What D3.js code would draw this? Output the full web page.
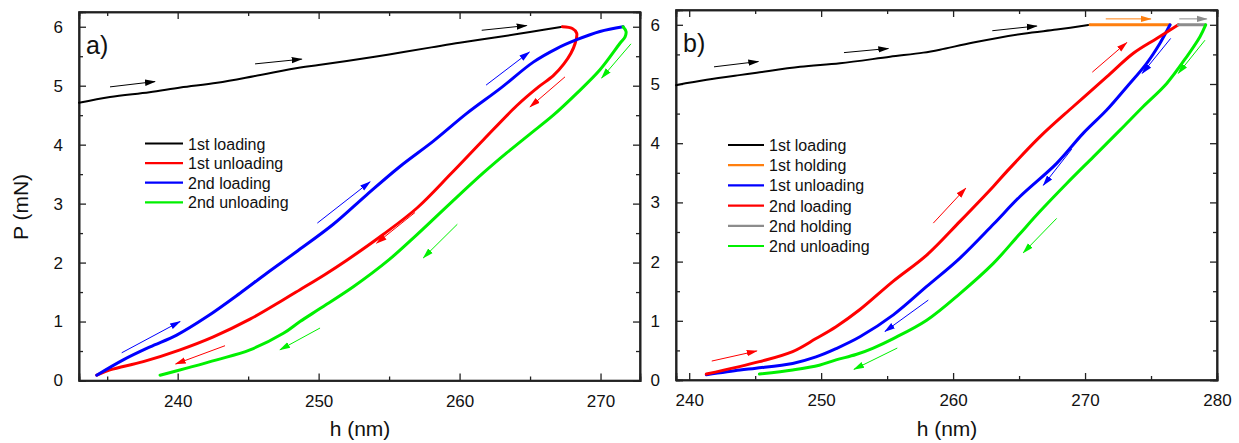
<!DOCTYPE html>
<html><head><meta charset="utf-8">
<script src="https://cdn.jsdelivr.net/npm/d3@7"></script>
<style>
html,body{margin:0;padding:0;background:#fff;}
svg{display:block;font-family:"Liberation Sans",Arial,Helvetica,sans-serif;}
</style></head>
<body><svg id="c" width="1239" height="443"></svg>
<script>
// ---------- DATA : panel a) ----------
const a_loading1 = [[233,4.71],[235.2,4.81],[238,4.89],[240.2,4.97],[242.8,5.05],[245.4,5.16],[248.7,5.31],[250,5.35],[252,5.42],[255,5.53],[258,5.65],[260,5.73],[263.1,5.84],[265,5.91],[267.3,6.0]];
const a_unloading1 = [[267.3,6.0],[268.0,5.97],[268.31,5.89],[268.2,5.72],[267.9,5.55],[267.4,5.37],[266.65,5.17],[265.6,4.98],[264.05,4.66],[261.68,4.08],[259.4,3.51],[257.0,2.93],[254.6,2.48],[252.0,2.04],[250.4,1.79],[248.68,1.54],[247.5,1.37],[245.13,1.04],[242.53,0.74],[240.17,0.52],[237.56,0.32],[235.2,0.18],[234.26,0.09]];
const a_loading2 = [[234.26,0.09],[236.14,0.35],[238.04,0.57],[239.93,0.77],[242.06,1.08],[244.42,1.48],[246.32,1.82],[248.4,2.18],[251.04,2.65],[253.41,3.15],[255.77,3.63],[258.14,4.06],[260.51,4.53],[262.87,4.95],[265.23,5.4],[266.89,5.63],[268.31,5.78],[269.96,5.92],[271.6,6.0]];
const a_unloading2 = [[271.6,6.0],[271.81,5.92],[271.74,5.83],[271.38,5.72],[269.96,5.27],[268.31,4.87],[266.65,4.5],[264.99,4.18],[263.34,3.86],[261.68,3.52],[259.32,3.0],[256.96,2.47],[255.0,2.05],[252.46,1.59],[250.1,1.22],[248.68,1.0],[247.5,0.8],[245.13,0.52],[242.77,0.35],[240.64,0.21],[238.75,0.09]];
// arrows [h1,P1,h2,P2]
const a_arrowsBlack = [[235.2,4.98,238.39,5.07],[245.49,5.37,248.8,5.45],[261.57,5.94,264.76,6.02]];
const a_arrowsBlue  = [[236.03,0.47,240.17,1.0],[249.91,2.67,253.65,3.37],[261.88,5.01,264.95,5.57]];
const a_arrowsRed   = [[243.36,0.59,239.86,0.28],[256.84,2.85,254.12,2.33],[267.48,5.15,265.0,4.64]];
const a_arrowsGreen = [[250.1,0.89,247.26,0.52],[259.84,2.65,257.43,2.08],[272.16,5.71,270.08,5.13]];
const a_legend = ["1st loading","1st unloading","2nd loading","2nd unloading"];

// ---------- DATA : panel b) ----------
const b_loading1 = [[239,4.98],[241.33,5.07],[243.8,5.15],[245.12,5.19],[248.4,5.29],[251.43,5.35],[255.22,5.46],[257.74,5.53],[259.0,5.58],[261.53,5.7],[265.32,5.85],[267.85,5.92],[270.38,6.0]];
const b_holding1 = [[270.38,6.0],[276.44,6.0]];
const b_unloading1 = [[276.44,6.0],[275.68,5.69],[274.67,5.35],[273.16,4.95],[271.64,4.56],[269.87,4.17],[267.85,3.66],[265.07,3.1],[263.05,2.63],[260.52,2.06],[258.0,1.58],[255.47,1.1],[252.94,0.73],[251.13,0.53],[249.61,0.39],[247.84,0.28],[245.06,0.2],[243.85,0.17],[241.3,0.09]];
const b_loading2 = [[241.3,0.1],[245.32,0.31],[247.84,0.48],[249.61,0.7],[251.13,0.9],[252.94,1.19],[255.47,1.67],[258.0,2.11],[260.52,2.68],[263.05,3.27],[264.06,3.52],[266.59,4.11],[269.11,4.62],[271.64,5.12],[273.66,5.52],[275.43,5.77],[277.07,6.0]];
const b_holding2 = [[277.07,6.0],[279.14,6.0]];
const b_unloading2 = [[279.14,6.0],[278.71,5.8],[277.7,5.46],[276.19,5.01],[274.41,4.62],[272.65,4.22],[270.63,3.77],[268.61,3.32],[266.59,2.85],[264.94,2.44],[263.05,1.97],[260.52,1.46],[258.0,1.01],[255.47,0.7],[253.95,0.54],[252.64,0.43],[251.13,0.34],[249.86,0.25],[247.84,0.17],[245.32,0.1]];
const b_arrowsBlack  = [[241.88,5.29,245.24,5.38],[251.73,5.53,255.09,5.6],[262.97,5.9,266.34,5.98]];
const b_arrowsOrange = [[271.57,6.1,274.98,6.1]];
const b_arrowsGray   = [[277.14,6.1,279.22,6.1]];
const b_arrowsRed    = [[241.71,0.32,245.12,0.49],[258.5,2.65,260.96,3.24],[270.55,5.2,273.16,5.7]];
const b_arrowsBlue   = [[258.12,1.35,254.84,0.82],[268.99,3.9,266.84,3.29],[276.49,5.77,274.34,5.18]];
const b_arrowsGreen  = [[255.77,0.54,252.49,0.18],[267.85,2.73,265.32,2.15],[279.09,5.74,277.07,5.18]];
const b_legend = ["1st loading","1st holding","1st unloading","2nd loading","2nd holding","2nd unloading"];

// ticks
const yTicks = [0,1,2,3,4,5,6];
const yMinor = [0.5,1.5,2.5,3.5,4.5,5.5];
const a_xTicks = [240,250,260,270];
const a_xMinor = [235,245,255,265];
const b_xTicks = [240,250,260,270,280];
const b_xMinor = [245,255,265,275];

const C = {black:"#000000",red:"#ff0000",blue:"#0000ff",green:"#00f000",orange:"#ff7f0e",gray:"#8c8c8c"};

const svg = d3.select("#c");
const defs = svg.append("defs");
Object.entries(C).forEach(([k,v])=>{
  defs.append("marker").attr("id","ah-"+k).attr("viewBox","0 -4 11 8")
    .attr("refX",10).attr("refY",0).attr("markerUnits","userSpaceOnUse")
    .attr("markerWidth",11).attr("markerHeight",8).attr("orient","auto")
    .append("path").attr("d","M0,-3.2L11,0L0,3.2Z").attr("fill",v);
});

function panel(cfg){
  const x = d3.scaleLinear().domain(cfg.xDom).range([cfg.x0,cfg.x1]);
  const y = d3.scaleLinear().domain([0,6.25]).range([cfg.y1,cfg.y0]);
  const g = svg.append("g");
  const fs = "17px";
  const mk = (axis,tr)=>{ const a=g.append("g").attr("transform",tr).call(axis);
    a.select(".domain").attr("stroke","#222").attr("stroke-width",1.6);
    a.selectAll(".tick line").attr("stroke","#222").attr("stroke-width",1.3);
    a.selectAll("text").attr("font-size",fs).attr("fill","#111").attr("font-family","Liberation Sans, Arial, sans-serif");
    return a;};
  mk(d3.axisBottom(x).tickValues(cfg.xTicks).tickSize(-7).tickPadding(14).tickFormat(d3.format("d")), `translate(0,${cfg.y1})`);
  mk(d3.axisBottom(x).tickValues(cfg.xMinor).tickSize(-4).tickFormat(""), `translate(0,${cfg.y1})`);
  mk(d3.axisTop(x).tickValues(cfg.xTicks).tickSize(-7).tickFormat(""), `translate(0,${cfg.y0})`);
  mk(d3.axisTop(x).tickValues(cfg.xMinor).tickSize(-4).tickFormat(""), `translate(0,${cfg.y0})`);
  mk(d3.axisLeft(y).tickValues(yTicks).tickSize(-7).tickPadding(16).tickFormat(d3.format("d")), `translate(${cfg.x0},0)`);
  mk(d3.axisLeft(y).tickValues(yMinor).tickSize(-4).tickFormat(""), `translate(${cfg.x0},0)`);
  mk(d3.axisRight(y).tickValues(yTicks).tickSize(-7).tickFormat(""), `translate(${cfg.x1},0)`);
  mk(d3.axisRight(y).tickValues(yMinor).tickSize(-4).tickFormat(""), `translate(${cfg.x1},0)`);
  g.append("rect").attr("x",cfg.x0).attr("y",cfg.y0).attr("width",cfg.x1-cfg.x0).attr("height",cfg.y1-cfg.y0)
    .attr("fill","none").attr("stroke","#222").attr("stroke-width",1.6);

  const line = d3.line().x(d=>x(d[0])).y(d=>y(d[1])).curve(d3.curveCatmullRom.alpha(0.5));
  cfg.series.forEach(s=>{
    g.append("path").datum(s.data).attr("d",line).attr("fill","none")
      .attr("stroke",C[s.c]).attr("stroke-width",s.w).attr("stroke-linejoin","round").attr("stroke-linecap","round");
  });
  cfg.arrows.forEach(ar=>{
    ar.data.forEach(d=>{
      g.append("line").attr("x1",x(d[0])).attr("y1",y(d[1])).attr("x2",x(d[2])).attr("y2",y(d[3]))
        .attr("stroke",C[ar.c]).attr("stroke-width",1).attr("marker-end",`url(#ah-${ar.c})`);
    });
  });
  g.append("text").attr("x",cfg.x0+7).attr("y",cfg.y0+42).attr("font-size","25px").attr("fill","#111").text(cfg.label);
  const lg = g.append("g");
  cfg.legend.forEach((t,i)=>{
    const yy = cfg.leg.y + i*cfg.leg.dy;
    lg.append("line").attr("x1",cfg.leg.x).attr("x2",cfg.leg.x+cfg.leg.len).attr("y1",yy).attr("y2",yy)
      .attr("stroke",C[cfg.legendColors[i]]).attr("stroke-width",2.2);
    lg.append("text").attr("x",cfg.leg.x+cfg.leg.len+5).attr("y",yy+6).attr("font-size","16px").attr("fill","#111").text(t);
  });
  g.append("text").attr("x",cfg.xlabX).attr("y",436).attr("text-anchor","middle").attr("font-size","21px").attr("fill","#111").text("h (nm)");
}

panel({x0:79,x1:640,y0:12,y1:380.5,xDom:[233,272.8],xTicks:a_xTicks,xMinor:a_xMinor,label:"a)",
  series:[{data:a_loading1,c:"black",w:2},{data:a_unloading1,c:"red",w:3},{data:a_loading2,c:"blue",w:3},{data:a_unloading2,c:"green",w:3}],
  arrows:[{data:a_arrowsBlack,c:"black"},{data:a_arrowsBlue,c:"blue"},{data:a_arrowsRed,c:"red"},{data:a_arrowsGreen,c:"green"}],
  legend:a_legend,legendColors:["black","red","blue","green"],leg:{x:145,y:143.5,dy:19.6,len:38},xlabX:360});

panel({x0:676,x1:1217,y0:10,y1:380,xDom:[239,280],xTicks:b_xTicks,xMinor:b_xMinor,label:"b)",
  series:[{data:b_loading1,c:"black",w:2},{data:b_holding1,c:"orange",w:3},{data:b_unloading1,c:"blue",w:3},{data:b_loading2,c:"red",w:3},{data:b_holding2,c:"gray",w:3},{data:b_unloading2,c:"green",w:3}],
  arrows:[{data:b_arrowsBlack,c:"black"},{data:b_arrowsOrange,c:"orange"},{data:b_arrowsGray,c:"gray"},{data:b_arrowsRed,c:"red"},{data:b_arrowsBlue,c:"blue"},{data:b_arrowsGreen,c:"green"}],
  legend:b_legend,legendColors:["black","orange","blue","red","gray","green"],leg:{x:728,y:145,dy:20.2,len:36},xlabX:947});

svg.append("text").attr("transform","translate(28,207) rotate(-90)").attr("text-anchor","middle")
  .attr("font-size","21px").attr("fill","#111").text("P (mN)");
</script></body></html>
